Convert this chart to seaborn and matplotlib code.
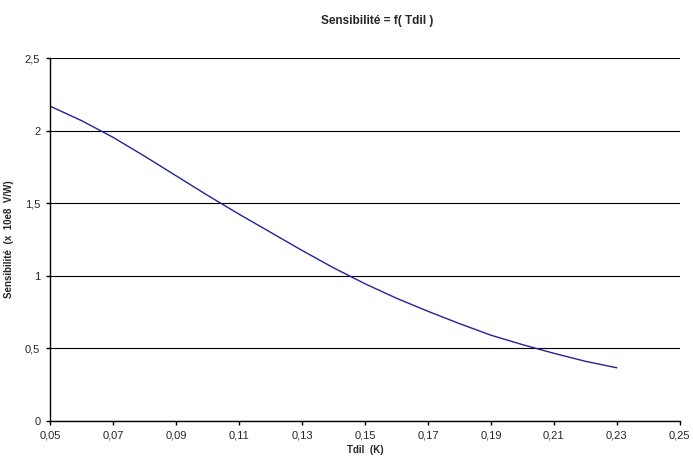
import matplotlib
matplotlib.use("Agg")
import matplotlib.pyplot as plt
import seaborn as sns
import pandas as pd
from matplotlib.ticker import FuncFormatter

# valeurs
tdil = [0.05, 0.06, 0.07, 0.08, 0.09, 0.10, 0.11, 0.12, 0.13, 0.14,
        0.15, 0.16, 0.17, 0.18, 0.19, 0.20, 0.21, 0.22, 0.23]
sensibilite = [2.17, 2.07, 1.955, 1.825, 1.69, 1.555, 1.425, 1.30, 1.175, 1.055,
               0.945, 0.845, 0.755, 0.67, 0.59, 0.525, 0.465, 0.41, 0.365]
x_ticks = [0.05, 0.07, 0.09, 0.11, 0.13, 0.15, 0.17, 0.19, 0.21, 0.23, 0.25]
y_ticks = [0, 0.5, 1, 1.5, 2, 2.5]

df = pd.DataFrame({"Tdil": tdil, "S": sensibilite})

sns.set_style("white")
plt.rcParams['font.family'] = ['Liberation Sans', 'DejaVu Sans']

fig = plt.figure(figsize=(6.93, 4.59), dpi=100)
ax = fig.add_axes([0.0722, 0.0834, 0.9088, 0.7896])

sns.lineplot(data=df, x="Tdil", y="S", ax=ax, color="#22229a", linewidth=1.0)

ax.set_xlim(0.05, 0.25)
ax.set_ylim(0, 2.5)
ax.set_xticks(x_ticks)
ax.set_yticks(y_ticks)

def virgule(v, nd):
    s = f"{v:.{nd}f}"
    if nd == 1 and s.endswith(".0"):
        s = s[:-2]
    return s.replace(".", ",")

ax.xaxis.set_major_formatter(FuncFormatter(lambda v, p: virgule(v, 2)))
ax.yaxis.set_major_formatter(FuncFormatter(lambda v, p: virgule(v, 1)))

ax.grid(axis="y", color="black", linewidth=0.8)
ax.grid(axis="x", visible=False)
for s in ["top", "right"]:
    ax.spines[s].set_visible(False)
for s in ["left", "bottom"]:
    ax.spines[s].set_color("black")
    ax.spines[s].set_linewidth(1.0)

ax.tick_params(axis="both", direction="out", length=3, width=1, color="black",
               labelsize=8, pad=4, bottom=True, left=True)

ax.set_xlabel("Tdil  (K)", fontsize=7, fontweight="bold", labelpad=3)
ax.set_ylabel("Sensibilité  (x  10e8  V/W)", fontsize=7, fontweight="bold", labelpad=8)
fig.suptitle("Sensibilité = f( Tdil )", fontsize=8.5, fontweight="bold", x=0.545, y=0.968)

fig.savefig("out.png", dpi=100)
